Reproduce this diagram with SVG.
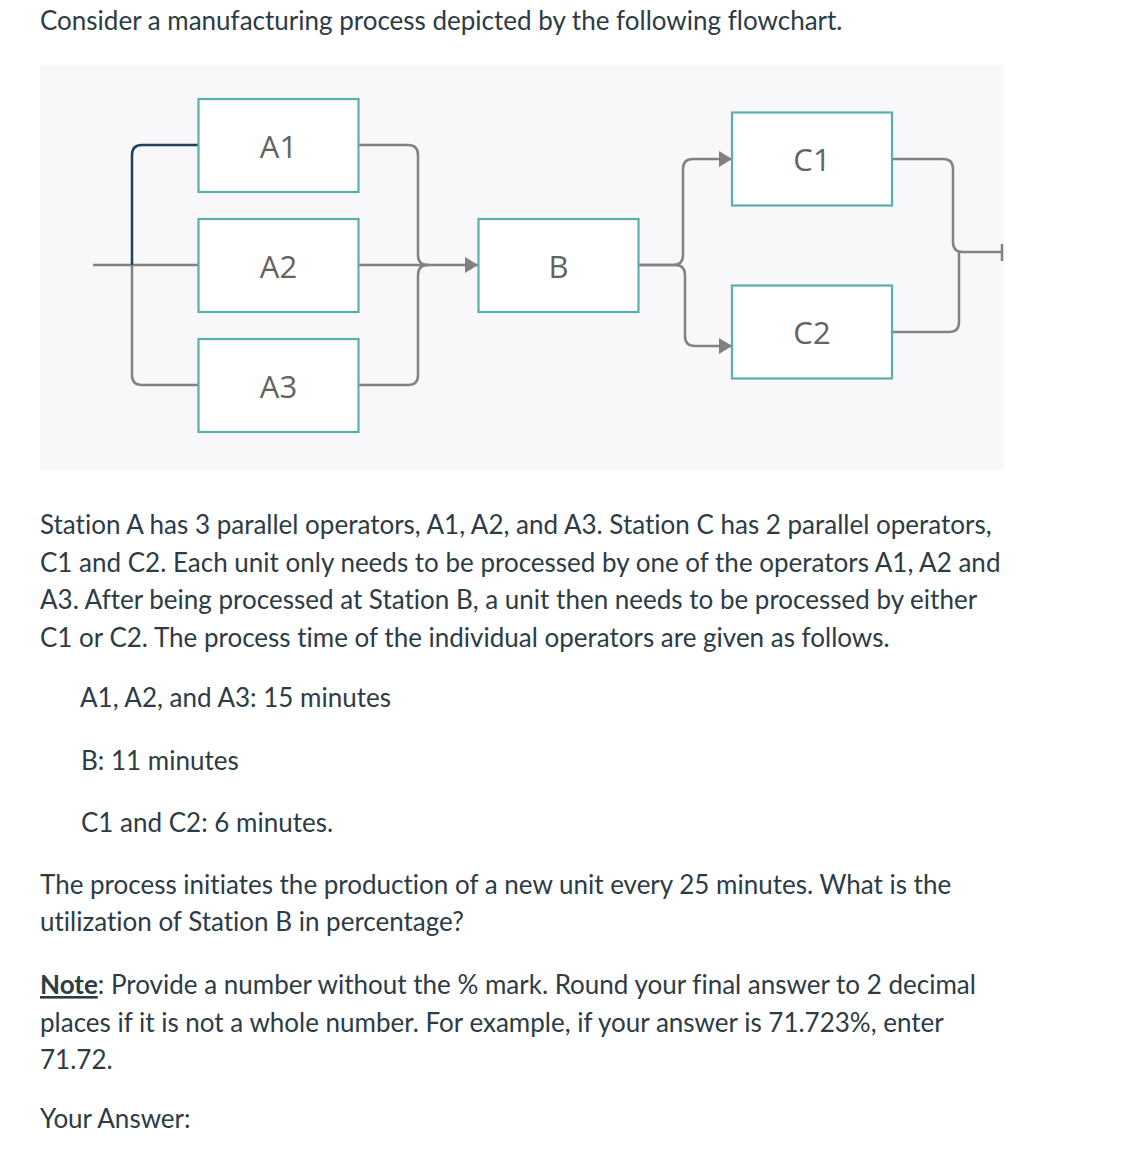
<svg xmlns="http://www.w3.org/2000/svg" width="1127" height="1152" viewBox="0 0 1127 1152">
<style>
.body{font-family:Lato,"Liberation Sans",sans-serif;font-size:26px;fill:#2d3b45;font-variant-ligatures:none}
.node rect{fill:#ffffff;stroke:#5aafac;stroke-width:2.2}
.node text{font-family:"Open Sans","Noto Sans",sans-serif;font-size:31px;fill:#636363;text-anchor:middle}
.conn path{fill:none;stroke:#828282;stroke-width:2.5;stroke-linejoin:round}
</style>
<defs>
<marker id="arr" markerUnits="userSpaceOnUse" markerWidth="14" markerHeight="17" refX="13" refY="8" orient="auto">
<path d="M0,0 L13,8 L0,16 z" fill="#808080"/>
</marker>
</defs>
<rect width="1127" height="1152" fill="#ffffff"/>
<text class="body" x="40" y="30">Consider a manufacturing process depicted by the following flowchart.</text>
<rect x="40" y="65" width="964" height="405" fill="#f8f8fb"/>
<g class="conn">
<path d="M93,265 H198"/>
<path d="M198,145 H142 Q132,145 132,155 V265" style="stroke:#1e415f"/>
<path d="M132,265 V375 Q132,385 142,385 H198"/>
<path d="M358,145 H408 Q418,145 418,155 V255 Q418,265 428,265"/>
<path d="M358,385 H408 Q418,385 418,375 V275 Q418,265 428,265"/>
<path d="M358,265 H478" marker-end="url(#arr)"/>
<path d="M639,265 H673 Q683,265 683,255 V169 Q683,159 693,159 H732" marker-end="url(#arr)"/>
<path d="M639,265 H675 Q685,265 685,275 V336 Q685,346 695,346 H732" marker-end="url(#arr)"/>
<path d="M892,159 H943 Q953,159 953,169 V242 Q953,252 963,252 H1002"/>
<path d="M892,332 H949 Q959,332 959,322 V252"/>
<path d="M1002,244 V261"/>
</g>
<g id="A1" class="node"><rect x="198.5" y="99" width="160" height="93"/><text x="278.5" y="158">A1</text></g>
<g id="A2" class="node"><rect x="198.5" y="219" width="160" height="93"/><text x="278.5" y="278">A2</text></g>
<g id="A3" class="node"><rect x="198.5" y="339" width="160" height="93"/><text x="278.5" y="398">A3</text></g>
<g id="B" class="node"><rect x="478.5" y="219" width="160" height="93"/><text x="558.5" y="278">B</text></g>
<g id="C1" class="node"><rect x="732" y="112.5" width="160" height="93"/><text x="812" y="171">C1</text></g>
<g id="C2" class="node"><rect x="732" y="285.5" width="160" height="93"/><text x="812" y="344">C2</text></g>
<text class="body" x="40" y="534">Station A has 3 parallel operators, A1, A2, and A3. Station C has 2 parallel operators,</text>
<text class="body" x="40" y="572">C1 and C2. Each unit only needs to be processed by one of the operators A1, A2 and</text>
<text class="body" x="40" y="609">A3. After being processed at Station B, a unit then needs to be processed by either</text>
<text class="body" x="40" y="647">C1 or C2. The process time of the individual operators are given as follows.</text>
<text class="body" x="80" y="707">A1, A2, and A3: 15 minutes</text>
<text class="body" x="81" y="770">B: 11 minutes</text>
<text class="body" x="81" y="832">C1 and C2: 6 minutes.</text>
<text class="body" x="40" y="894">The process initiates the production of a new unit every 25 minutes. What is the</text>
<text class="body" x="40" y="931">utilization of Station B in percentage?</text>
<text class="body" x="40" y="994"><tspan font-weight="bold" text-decoration="underline">Note</tspan>: Provide a number without the % mark. Round your final answer to 2 decimal</text>
<text class="body" x="40" y="1032">places if it is not a whole number. For example, if your answer is 71.723%, enter</text>
<text class="body" x="40" y="1069">71.72.</text>
<text class="body" x="40" y="1128">Your Answer:</text>
</svg>
